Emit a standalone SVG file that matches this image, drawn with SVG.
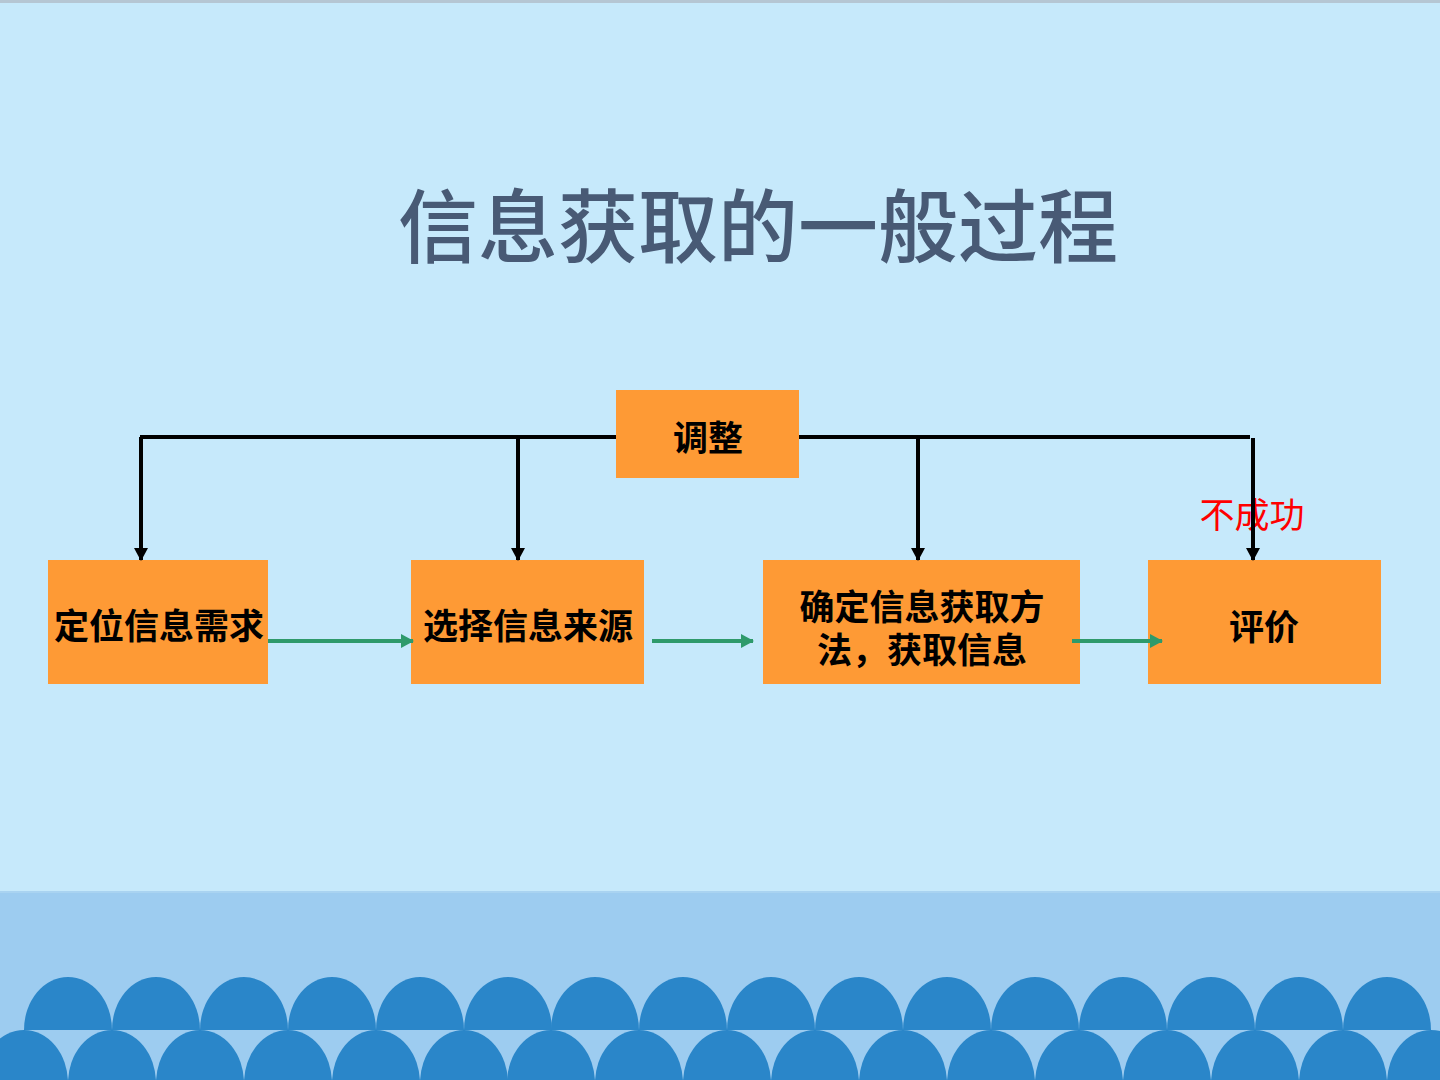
<svg xmlns="http://www.w3.org/2000/svg" xmlns:xlink="http://www.w3.org/1999/xlink" width="1440" height="1080" viewBox="0 0 1440 1080">
  <style>
    .box { fill: #FE9A35; }
    .label { font-family: "Noto Sans CJK SC", "Noto Sans", sans-serif; font-size: 35px; font-weight: bold; fill: #000; text-anchor: middle; dominant-baseline: central; }
    .title { font-family: "Noto Sans CJK SC", "Noto Sans", sans-serif; font-size: 80px; font-weight: 500; fill: #485A75; text-anchor: middle; }
    .warn { font-family: "Noto Sans CJK SC", "Noto Sans", sans-serif; font-size: 35px; fill: #FF0000; text-anchor: middle; dominant-baseline: central; }
    .feedback { fill: none; stroke: #000; stroke-width: 4; }
    .flow { fill: none; stroke: #2E9A6B; stroke-width: 4; }
    .dome { fill: #2A86C9; }
  </style>
  <defs>
    <marker id="arrowBlack" markerUnits="userSpaceOnUse" markerWidth="14" markerHeight="14" viewBox="0 0 14 14" refX="12" refY="7" orient="auto">
      <path d="M0,0 L13,7 L0,14 Z" fill="#000"/>
    </marker>
    <marker id="arrowGreen" markerUnits="userSpaceOnUse" markerWidth="14" markerHeight="14" viewBox="0 0 14 14" refX="12" refY="7" orient="auto">
      <path d="M0,0 L13,7 L0,14 Z" fill="#2E9A6B"/>
    </marker>
    <path id="domeTop" class="dome" d="M-44,0 A44,53 0 0 1 44,0 Z"/>
  </defs>

  <!-- background -->
  <rect x="0" y="0" width="1440" height="1080" fill="#C6E9FB"/>
  <rect x="0" y="0" width="1440" height="3" fill="#B5C6D3"/>
  <rect x="0" y="892" width="1440" height="188" fill="#9DCCF0"/>
  <rect x="0" y="891" width="1440" height="2" fill="#A9D3F1"/>

  <!-- scalloped band: upper row -->
  <g id="scallops-upper">
    <use xlink:href="#domeTop" x="68" y="1030"/>
    <use xlink:href="#domeTop" x="156" y="1030"/>
    <use xlink:href="#domeTop" x="244" y="1030"/>
    <use xlink:href="#domeTop" x="332" y="1030"/>
    <use xlink:href="#domeTop" x="420" y="1030"/>
    <use xlink:href="#domeTop" x="508" y="1030"/>
    <use xlink:href="#domeTop" x="595" y="1030"/>
    <use xlink:href="#domeTop" x="683" y="1030"/>
    <use xlink:href="#domeTop" x="771" y="1030"/>
    <use xlink:href="#domeTop" x="859" y="1030"/>
    <use xlink:href="#domeTop" x="947" y="1030"/>
    <use xlink:href="#domeTop" x="1035" y="1030"/>
    <use xlink:href="#domeTop" x="1123" y="1030"/>
    <use xlink:href="#domeTop" x="1211" y="1030"/>
    <use xlink:href="#domeTop" x="1299" y="1030"/>
    <use xlink:href="#domeTop" x="1387" y="1030"/>
  </g>
  <!-- scalloped band: lower row -->
  <g id="scallops-lower">
    <use xlink:href="#domeTop" x="24" y="1083"/>
    <use xlink:href="#domeTop" x="112" y="1083"/>
    <use xlink:href="#domeTop" x="200" y="1083"/>
    <use xlink:href="#domeTop" x="288" y="1083"/>
    <use xlink:href="#domeTop" x="376" y="1083"/>
    <use xlink:href="#domeTop" x="464" y="1083"/>
    <use xlink:href="#domeTop" x="551" y="1083"/>
    <use xlink:href="#domeTop" x="639" y="1083"/>
    <use xlink:href="#domeTop" x="727" y="1083"/>
    <use xlink:href="#domeTop" x="815" y="1083"/>
    <use xlink:href="#domeTop" x="903" y="1083"/>
    <use xlink:href="#domeTop" x="991" y="1083"/>
    <use xlink:href="#domeTop" x="1079" y="1083"/>
    <use xlink:href="#domeTop" x="1167" y="1083"/>
    <use xlink:href="#domeTop" x="1255" y="1083"/>
    <use xlink:href="#domeTop" x="1343" y="1083"/>
    <use xlink:href="#domeTop" x="1431" y="1083"/>
  </g>

  <!-- title -->
  <text class="title" x="758" y="256">信息获取的一般过程</text>

  <!-- nodes -->
  <g id="node-adjust">
    <rect class="box" x="616" y="390" width="183" height="88"/>
    <text class="label" x="708" y="435">调整</text>
  </g>
  <g id="node-define">
    <rect class="box" x="48" y="560" width="220" height="124"/>
    <text class="label" x="159" y="623">定位信息需求</text>
  </g>
  <g id="node-source">
    <rect class="box" x="411" y="560" width="233" height="124"/>
    <text class="label" x="528" y="623">选择信息来源</text>
  </g>
  <g id="node-method">
    <rect class="box" x="763" y="560" width="317" height="124"/>
    <text class="label" x="922" y="604">确定信息获取方</text>
    <text class="label" x="922" y="647">法，获取信息</text>
  </g>
  <g id="node-evaluate">
    <rect class="box" x="1148" y="560" width="233" height="124"/>
    <text class="label" x="1264" y="624">评价</text>
  </g>
  <text class="warn" x="1252" y="512">不成功</text>

  <!-- connectors, drawn over the boxes -->
  <g id="connectors">
    <path class="feedback" d="M140,437 H616 M799,437 H1250"/>
    <path class="feedback" d="M141,437 V560" marker-end="url(#arrowBlack)"/>
    <path class="feedback" d="M518,437 V560" marker-end="url(#arrowBlack)"/>
    <path class="feedback" d="M918,437 V560" marker-end="url(#arrowBlack)"/>
    <path class="feedback" d="M1253,438 V560" marker-end="url(#arrowBlack)"/>
    <path class="flow" d="M268,641 H413" marker-end="url(#arrowGreen)"/>
    <path class="flow" d="M652,641 H753" marker-end="url(#arrowGreen)"/>
    <path class="flow" d="M1072,641 H1162" marker-end="url(#arrowGreen)"/>
  </g>
</svg>
